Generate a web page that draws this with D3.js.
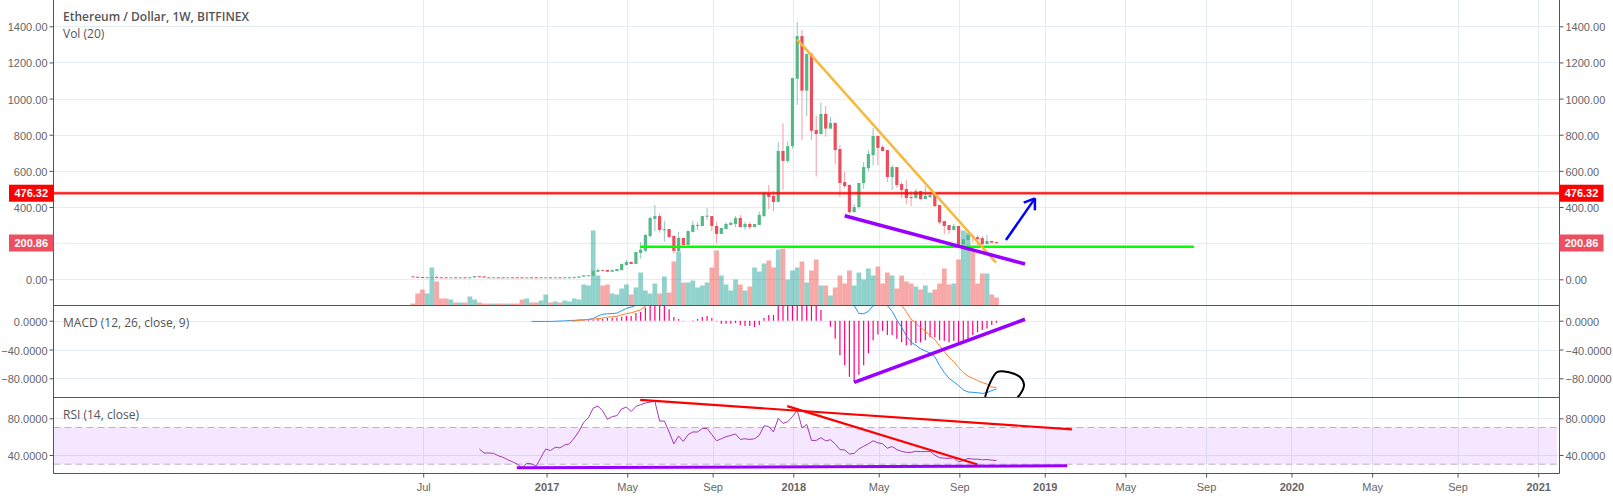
<!DOCTYPE html>
<html>
<head>
<meta charset="utf-8">
<script src="https://cdn.jsdelivr.net/npm/d3@7"></script>
<style>
  html, body { margin: 0; padding: 0; background: #fff; }
  svg { display: block; }
  .axis text { font-family: "Liberation Sans", Arial, sans-serif; font-size: 11px; fill: #666; }
  .axis path, .axis line { stroke: #555; }
  .legend { font-family: "Open Sans", sans-serif; font-size: 12px; fill: #555; }
</style>
</head>
<body>
<div id="chart"></div>
<script>
// weekly candles, Ethereum / Dollar. index 0 is the first bar
var opens = [16,14,13,11,11,12,11.5,11,10.5,11,
  10.5,11,10,10,17,16,11,10.5,11,11,
  10.5,11,11,11,10,11,11,7,10,11,
  10,11,10.5,10.5,11,9,15,22,20,42,
  51,51,42,46,51,79,96,85,146,158,
  240,334,350,276,278,240,157,229,190,262,
  300,295,350,350,295,251,278,301,306,339,
  289,306,289,301,350,474,461,429,710,655,
  737,1110,1346,1044,1247,826,804,915,834,865,
  721,538,522,372,400,533,615,687,793,732,
  715,566,621,527,500,455,451,488,444,455,
  477,411,322,300,273,295,194,217,239,233,
  228,195,212,206];
var closes = [14,12,11.5,11.5,12,11,11,10.5,11,10.5,
  11,10.5,11,17,16,10,10.5,11,10.5,10.5,
  11,10.5,10.5,10,11,10,7,11,11,10,
  10.5,10.5,11,11,12,15,22,22.5,46,51,
  47,42,51,57,85,96,85,151,164,245,
  339,350,273,277,234,157,229,190,267,301,
  301,350,352,295,251,284,306,313,339,289,
  306,289,306,356,478,456,428,710,655,737,
  1114,1346,1044,1247,822,804,915,834,865,715,
  533,516,372,400,533,621,693,793,727,710,
  566,621,522,494,450,451,488,444,461,466,
  405,315,295,273,295,190,222,245,234,223,
  195,212,203,200.86];
var highs = [16,14,13,11.5,12,19,11.5,11,11,11,
  11,11,15,17,17,16,11,11,11,11,
  11,11,11,11,11,11,11,11,11,11,
  10.5,11,13,14,16,16,22,23,47,61,
  52,52,52,58,86,107,97,152,206,250,
  347,411,365,323,279,241,262,230,270,323,
  317,351,395,351,317,285,315,319,350,356,
  317,317,307,374,485,522,489,760,863,765,
  1115,1424,1380,1250,1256,907,979,959,898,870,
  743,594,525,417,534,649,715,837,795,743,
  716,632,622,538,549,488,500,490,516,483,
  478,412,323,301,306,296,223,246,245,245,
  240,245,213,207];
var lows = [14,12,11,11,11,11,11,10,10.5,10,
  10.5,10,10,10,16,10,10,10.5,10,10,
  10.5,10,10,10,10,10,7,7,10,10,
  10,10,10.5,10.5,11,9,15,22,20,40,
  46,41,41,45,50,75,84,84,114,150,
  230,267,258,208,228,142,150,188,188,260,
  273,293,328,267,201,250,276,299,289,287,
  273,278,288,300,345,389,378,425,494,645,
  723,965,771,904,771,568,800,789,833,638,
  457,505,361,371,389,500,597,632,632,708,
  538,494,505,450,416,405,445,440,443,450,
  400,305,250,250,272,185,192,215,205,190,
  190,194,202,194];
var volumes = [2,12,16,12,38,24,7,7,6,3,
  3,3,9,6,3,2,2,2,2,2,
  2,2,2,6,7,3,3,5,11,3,
  4,3,5,4,7,6,21,20,75,30,
  20,21,12,11,17,21,11,18,33,15,
  12,22,12,29,13,44,54,23,23,25,
  18,20,23,38,55,30,21,15,26,21,
  15,19,38,34,42,45,38,56,57,26,
  35,38,44,23,35,46,20,20,10,18,
  30,22,35,20,33,26,37,30,39,22,
  33,30,17,30,24,22,19,16,20,13,
  16,22,37,21,22,46,75,73,54,22,
  32,32,11,8];

// MACD, the series start later than the candles
var macdStart = 25;
var macdLine = [-1,-1,-1,-1,-1,-0.8,-0.5,-0.3,0.3,0.5,
  1,1.2,1.8,3,6.5,9,9.5,10,10.5,14,
  17,19,21.5,24,27,35,50,58,62,62,
  60,58,56,56,56,58,60,60,58,55,
  52,50,48,46,44,42,40,38,38,42,
  50,60,90,130,170,205,230,240,235,220,
  200,170,140,108,80,55,35,24,21,10,
  9.7,13,21,29,24,21,13,1,-9,-21,
  -30,-34,-39,-42,-45,-50,-62,-72,-80,-85,
  -90,-96,-99,-99.5,-100,-101,-100,-97,-95];
var signalStart = 33;
var signalLine = [0,-0.5,0.5,1,1.4,2.3,2.8,3.7,5,5.5,
  6,8.3,9.7,11,13,15,20.4,24,27,30,
  33,36,38,40,42,44,46,47,48,49,
  50,50,50,49,48,47,46,45,44,43,
  44,46,48,55,65,80,100,125,150,170,
  185,195,190,180,165,150,130,115,100,90,
  80,70,60,55,48,44,38,34,30,25,
  21,12.5,2,-3.2,-9.7,-14.4,-21,-26,-35,-43,
  -51,-57,-65,-72,-77,-80,-83,-86,-88,-92,-93];
var histogram = [0.2,0.3,0.4,0.5,0.8,1.4,2.8,2.8,3.7,3.7,
  4.2,5.6,6.5,6.5,10.7,12,18,25,30,32,
  28,16,5,2.3,-0.5,0,0.5,2.3,5,6.5,
  3.7,-0.9,-4.2,-4.2,-4.2,-3.2,-6,-7.4,-7.4,-8.8,
  -6,3.7,7.9,7.9,30,45,60,70,75,70,
  55,42,30,14.8,0,-8.3,-25,-48,-62,-78,
  -85,-75,-62,-45,-27,-19,-14,-20,-20,-25,
  -30,-34,-34,-31,-30,-27,-23,-23,-27,-28,
  -30,-28,-30,-27,-25,-20,-16,-13,-11,-6,-3];

var rsiStart = 14;
var rsi = [46.6,42.2,42.2,41.8,39.2,37.4,34.8,32.6,30,26.3,
  31,30.3,28.1,37.4,46.6,44.8,48.5,47.7,51,52.2,
  58.5,65.9,75.5,80.7,91,93.3,88.1,78.9,81.8,82.9,
  90.3,92.2,87.4,92.9,94.8,96.6,97.7,98.5,77,77,
  65.1,52.2,60.7,54.8,62.2,65.1,65.1,68.9,68.9,62.2,
  55.5,57.7,60,61.4,62.9,57,57.7,57,57.7,61.4,
  71.8,71.1,65.1,80,74.4,76.3,81.8,88.9,69.6,73.3,
  55.9,55.9,58.9,55.5,56.6,52.2,45.9,45.5,41.1,41.8,
  46.6,49.6,52.2,55.5,53.3,52.2,47.4,49.2,45.9,44,
  42.9,42.9,44,43.7,43.7,44,40,37,36.6,36.3,
  37,32.6,34,36.3,35.5,35.5,34.8,35.1,34.4,34];

// axis labels
var priceTicks = [0, 400, 600, 800, 1000, 1200, 1400];
var priceGrid = [0, 200, 400, 600, 800, 1000, 1200, 1400];
var macdTicks = [0, -40, -80];
var rsiTicks = [80, 40];
var timeTickBars = [2, 28, 45, 63, 80, 98, 115, 133, 150, 167, 185, 202, 220, 237];
var timeTickLabels = ["Jul", "2017", "May", "Sep", "2018", "May", "Sep", "2019", "May", "Sep", "2020", "May", "Sep", "2021"];

// hand drawn lines on the chart, [bar, value]
var orangeTrend = [[81, 1328], [122.9, 92]];
var purpleTrend = [[91, 352], [129, 85]];
var greenLevel = [[47.9, 180.4], [164.6, 180.4]];
var blueArrow = [[125, 217.5], [131.1, 448]];
var macdTrend = [[93, -85.6], [129, 2]];
var scribble = [[120.6, -106], [121.6, -87], [123.2, -71], [125.8, -72], [127.9, -78], [128.8, -89], [127.9, -103], [127.4, -106]];
var rsiRedA = [[47.9, 100], [138.9, 68]];
var rsiRedB = [[78.9, 93.3], [119, 29.6]];
var rsiPurple = [[21.9, 26], [137.9, 28.3]];
var redLevel = 476.32;
var lastPrice = 200.86;

var svgWidth = 1613;
var svgHeight = 498;
var left = 53.5;
var right = 1559.5;
var pricePaneBottom = 305.5;
var macdPaneBottom = 397.5;
var rsiPaneBottom = 473.5;

var upColor = "#53b987";
var downColor = "#eb4d5c";
var gridColor = "#e4edf3";

var svg = d3.select("#chart")
    .append("svg")
    .attr("width", svgWidth)
    .attr("height", svgHeight);

// scales
var xScale = d3.scaleLinear().domain([0, 123]).range([412.9, 996.5]);
var tickOffset = 0.8; // the time ticks sit a hair right of the bar centres
var priceScale = d3.scaleLinear().domain([0, 1400]).range([279.3, 26.3]);
var volScale = d3.scaleLinear().domain([0, 100]).range([pricePaneBottom, pricePaneBottom - 100]);
var macdScale = d3.scaleLinear().domain([0, -80]).range([320.7, 378.3]);
var rsiScale = d3.scaleLinear().domain([80, 30]).range([418.3, 464.2]);

// clip each pane
var defs = svg.append("defs");
function addClip(id, top, bottom) {
    defs.append("clipPath").attr("id", id).append("rect")
        .attr("x", left).attr("y", top)
        .attr("width", right - left).attr("height", bottom - top);
}
addClip("clipPrice", 0, pricePaneBottom);
addClip("clipMacd", pricePaneBottom, macdPaneBottom);
addClip("clipRsi", macdPaneBottom, rsiPaneBottom);

// grid
var gridGroup = svg.append("g").attr("stroke", gridColor).attr("stroke-width", 1);
timeTickBars.forEach(function (b) {
    var x = Math.round(xScale(b) + tickOffset) + 0.5;
    gridGroup.append("line").attr("x1", x).attr("x2", x).attr("y1", 0).attr("y2", rsiPaneBottom);
});
function hGrid(values, scale) {
    values.forEach(function (v) {
        var y = Math.round(scale(v)) + 0.5;
        gridGroup.append("line").attr("x1", left).attr("x2", right).attr("y1", y).attr("y2", y);
    });
}
hGrid(priceGrid, priceScale);
hGrid(macdTicks, macdScale);
hGrid(rsiTicks, rsiScale);

// price pane
var pricePane = svg.append("g").attr("clip-path", "url(#clipPrice)");

pricePane.selectAll(".vol")
    .data(volumes)
    .enter()
    .append("rect")
    .attr("class", "vol")
    .attr("x", (d, i) => xScale(i) - 2.37)
    .attr("width", 4.74)
    .attr("y", d => volScale(d))
    .attr("height", d => volScale(0) - volScale(d))
    .attr("fill", (d, i) => closes[i] >= opens[i] ? "#26a69a" : "#ef5350")
    .attr("opacity", 0.5);

// wicks
pricePane.selectAll(".wick")
    .data(highs)
    .enter()
    .append("line")
    .attr("class", "wick")
    .attr("x1", (d, i) => xScale(i))
    .attr("x2", (d, i) => xScale(i))
    .attr("y1", d => priceScale(d))
    .attr("y2", (d, i) => priceScale(lows[i]))
    .attr("stroke", (d, i) => closes[i] >= opens[i] ? "#8fc5c4" : "#f79aa6")
    .attr("stroke-width", 1);

// bodies, at least one pixel tall
pricePane.selectAll(".body")
    .data(opens)
    .enter()
    .append("rect")
    .attr("class", "body")
    .attr("x", (d, i) => xScale(i) - 1.6)
    .attr("width", 3.2)
    .attr("y", (d, i) => priceScale(Math.max(d, closes[i])))
    .attr("height", (d, i) => Math.max(1, Math.abs(priceScale(d) - priceScale(closes[i]))))
    .attr("fill", (d, i) => closes[i] >= opens[i] ? upColor : downColor);

// MACD pane
var macdPane = svg.append("g").attr("clip-path", "url(#clipMacd)");

macdPane.selectAll(".hist")
    .data(histogram)
    .enter()
    .append("line")
    .attr("class", "hist")
    .attr("x1", (d, i) => xScale(i + signalStart))
    .attr("x2", (d, i) => xScale(i + signalStart))
    .attr("y1", macdScale(0))
    .attr("y2", d => macdScale(d))
    .attr("stroke", "#ff0080")
    .attr("stroke-width", 1.2);

var macdPath = d3.line().x((d, i) => xScale(i + macdStart)).y(d => macdScale(d));
var signalPath = d3.line().x((d, i) => xScale(i + signalStart)).y(d => macdScale(d));
macdPane.append("path").attr("d", macdPath(macdLine))
    .attr("fill", "none").attr("stroke", "#2196f3").attr("stroke-width", 1);
macdPane.append("path").attr("d", signalPath(signalLine))
    .attr("fill", "none").attr("stroke", "#ff7f27").attr("stroke-width", 1);

// RSI pane
var rsiPane = svg.append("g").attr("clip-path", "url(#clipRsi)");
rsiPane.append("rect")
    .attr("x", left)
    .attr("width", right - 2.5 - left)
    .attr("y", rsiScale(70))
    .attr("height", rsiScale(30) - rsiScale(70))
    .attr("fill", "#9915ff")
    .attr("opacity", 0.1);
[70, 30].forEach(function (v) {
    rsiPane.append("line")
        .attr("x1", left).attr("x2", right - 2.5)
        .attr("y1", rsiScale(v)).attr("y2", rsiScale(v))
        .attr("stroke", "#bfaec6")
        .attr("stroke-dasharray", "7 4");
});
var rsiPath = d3.line().x((d, i) => xScale(i + rsiStart)).y(d => rsiScale(d));
rsiPane.append("path").attr("d", rsiPath(rsi))
    .attr("fill", "none").attr("stroke", "#a23ab5").attr("stroke-width", 1);

// drawings
function drawLine(group, pts, scale, color, width) {
    var gen = d3.line().x(d => xScale(d[0])).y(d => scale(d[1]));
    return group.append("path").attr("d", gen(pts))
        .attr("fill", "none").attr("stroke", color).attr("stroke-width", width);
}

pricePane.append("line")
    .attr("x1", left).attr("x2", right)
    .attr("y1", priceScale(redLevel)).attr("y2", priceScale(redLevel))
    .attr("stroke", "#ff0000").attr("stroke-width", 3).attr("opacity", 0.55);
pricePane.append("line")
    .attr("x1", left).attr("x2", right)
    .attr("y1", priceScale(redLevel)).attr("y2", priceScale(redLevel))
    .attr("stroke", "#ff0000").attr("stroke-width", 1.2);
drawLine(pricePane, greenLevel, priceScale, "#00ff00", 2.5);
drawLine(pricePane, orangeTrend, priceScale, "#f6b93b", 2.5);
drawLine(pricePane, purpleTrend, priceScale, "#9900ff", 3.5);

// arrow with two short arms at the tip
drawLine(pricePane, blueArrow, priceScale, "#0000ff", 2.5);
var tipX = xScale(blueArrow[1][0]), tipY = priceScale(blueArrow[1][1]);
var ang = Math.atan2(tipY - priceScale(blueArrow[0][1]), tipX - xScale(blueArrow[0][0]));
[-0.6, 0.6].forEach(function (a) {
    pricePane.append("line")
        .attr("x1", tipX).attr("y1", tipY)
        .attr("x2", tipX - 12 * Math.cos(ang + a)).attr("y2", tipY - 12 * Math.sin(ang + a))
        .attr("stroke", "#0000ff").attr("stroke-width", 2.5);
});

drawLine(macdPane, macdTrend, macdScale, "#9900ff", 3.5);
var scribblePath = d3.line().curve(d3.curveCatmullRom).x(d => xScale(d[0])).y(d => macdScale(d[1]));
macdPane.append("path").attr("d", scribblePath(scribble))
    .attr("fill", "none").attr("stroke", "#000").attr("stroke-width", 2);

drawLine(rsiPane, rsiRedA, rsiScale, "#ff0000", 2.2);
drawLine(rsiPane, rsiRedB, rsiScale, "#ff0000", 2.2);
drawLine(rsiPane, rsiPurple, rsiScale, "#9900ff", 3);

// axes
function addYAxes(ticks, scale, fmt) {
    var axL = d3.axisLeft(scale).tickValues(ticks).tickFormat(fmt).tickSize(4).tickPadding(2);
    var axR = d3.axisRight(scale).tickValues(ticks).tickFormat(fmt).tickSize(4).tickPadding(2);
    var gl = svg.append("g").attr("class", "axis").attr("transform", `translate(${left},0)`).call(axL);
    var gr = svg.append("g").attr("class", "axis").attr("transform", `translate(${right},0)`).call(axR);
    gl.select(".domain").remove();
    gr.select(".domain").remove();
    // labels sit a pixel lower than d3's default
    gl.selectAll("text").attr("y", 1);
    gr.selectAll("text").attr("y", 1);
}
addYAxes(priceTicks, priceScale, d3.format(".2f"));
addYAxes(macdTicks, macdScale, d3.format(".4f"));
addYAxes(rsiTicks, rsiScale, d3.format(".4f"));

// pane borders
var borderGroup = svg.append("g").attr("stroke", "#555").attr("stroke-width", 1);
borderGroup.append("line").attr("x1", left).attr("x2", left).attr("y1", 0).attr("y2", rsiPaneBottom);
borderGroup.append("line").attr("x1", right).attr("x2", right).attr("y1", 0).attr("y2", rsiPaneBottom);
[pricePaneBottom, macdPaneBottom, rsiPaneBottom].forEach(function (y) {
    borderGroup.append("line").attr("x1", left).attr("x2", right).attr("y1", y).attr("y2", y);
});

// time axis
var timeAxis = d3.axisBottom(xScale)
    .tickValues(timeTickBars)
    .tickFormat((d, i) => timeTickLabels[i])
    .tickSize(4)
    .tickPadding(6);
var timeGroup = svg.append("g").attr("class", "axis")
    .attr("transform", `translate(${tickOffset},${rsiPaneBottom})`)
    .call(timeAxis);
timeGroup.select(".domain").remove();
timeGroup.selectAll("text")
    .attr("font-weight", (d, i) => /^\d/.test(timeTickLabels[i]) ? "bold" : "normal");

// price labels on both scales
function priceLabel(value, color) {
    [[left - 44.5, left], [right, right + 44]].forEach(function (side) {
        svg.append("rect")
            .attr("x", side[0]).attr("width", side[1] - side[0])
            .attr("y", priceScale(value) - 8.5).attr("height", 17)
            .attr("fill", color);
        svg.append("text")
            .attr("x", (side[0] + side[1]) / 2)
            .attr("y", priceScale(value) + 4)
            .attr("text-anchor", "middle")
            .attr("font-family", "Liberation Sans, Arial, sans-serif")
            .attr("font-size", 11)
            .attr("font-weight", "bold")
            .attr("fill", "#fff")
            .text(value.toFixed(2));
    });
}
priceLabel(redLevel, "#ff0000");
priceLabel(lastPrice, "#ed4f60");

// legends
svg.append("text").attr("class", "legend").attr("x", 63).attr("y", 21).attr("font-weight", 600).text("Ethereum / Dollar, 1W, BITFINEX");
svg.append("text").attr("class", "legend").attr("x", 63).attr("y", 38).text("Vol (20)");
svg.append("text").attr("class", "legend").attr("x", 63).attr("y", 327).text("MACD (12, 26, close, 9)");
svg.append("text").attr("class", "legend").attr("x", 63).attr("y", 419).text("RSI (14, close)");
</script>
</body>
</html>
